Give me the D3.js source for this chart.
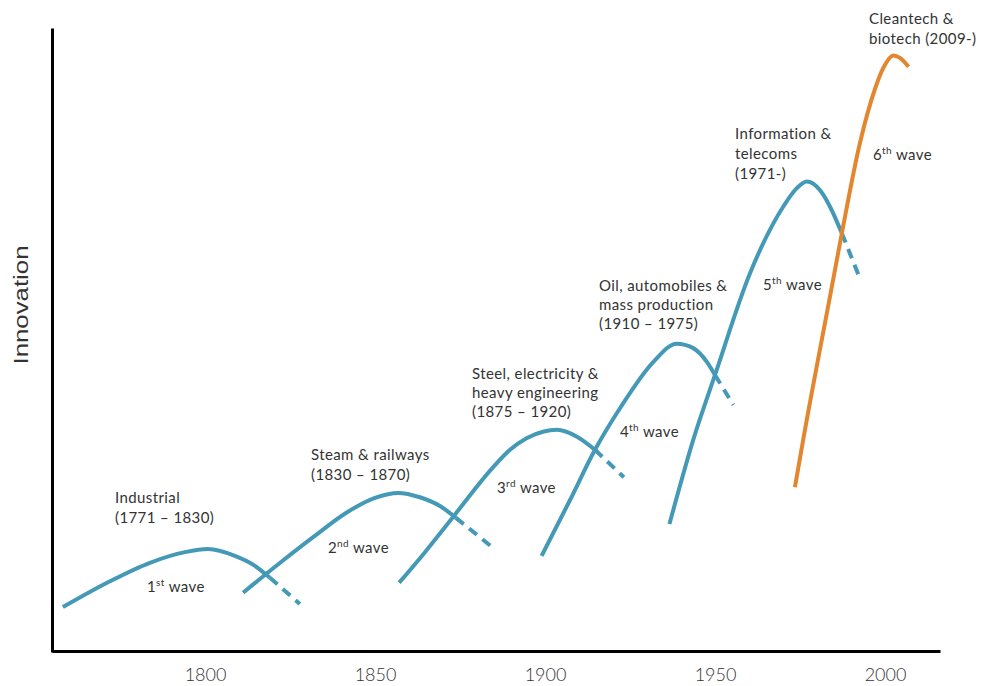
<!DOCTYPE html>
<html>
<head>
<meta charset="utf-8">
<script src="https://cdn.jsdelivr.net/npm/d3@7"></script>
<style>
  body { margin: 0; background: #fff; }
  text { font-family: Lato, "Open Sans", sans-serif; fill: #333; }
</style>
</head>
<body>
<svg width="984" height="686"></svg>
<script>
// years on the x axis
const tickYears = [1800, 1850, 1900, 1950, 2000];

// each wave: [year, innovation] — solid part then dashed decline
const wave1 = [[1758.2, 7.2], [1771.2, 11.1], [1783.8, 14.3], [1794.1, 16.0], [1800.9, 16.5],
  [1808.8, 15.4], [1814.7, 13.8], [1819.1, 11.9]];
const wave1Tail = [[1819.1, 11.9], [1827.9, 7.7]];

const wave2 = [[1811.2, 9.5], [1822.1, 14.3], [1831.8, 18.4], [1841.8, 22.4], [1850.0, 24.7],
  [1856.8, 25.5], [1863.2, 24.8], [1869.1, 23.4], [1873.8, 21.5]];
const wave2Tail = [[1873.8, 21.5], [1884.7, 16.7]];

const wave3 = [[1857.1, 11.1], [1864.7, 16.0], [1872.9, 21.6], [1884.7, 29.6], [1889.7, 32.4],
  [1894.7, 34.3], [1899.4, 35.3], [1903.5, 35.6], [1909.4, 34.5], [1914.7, 32.4]];
const wave3Tail = [[1914.7, 32.4], [1923.2, 28.0]];

const wave4 = [[1899.0, 15.4], [1907.4, 24.4], [1914.7, 32.4], [1922.1, 39.1],
  [1931.9, 46.5], [1938.7, 49.4], [1943.6, 48.7], [1947.6, 46.5], [1950.0, 44.4]];
const wave4Tail = [[1950.0, 44.4], [1955.4, 39.6]];

const wave5 = [[1936.6, 20.5], [1943.6, 34.0], [1950.0, 44.4], [1960.3, 60.7],
  [1970.1, 71.4], [1974.0, 74.3], [1977.0, 75.4], [1980.9, 74.0],
  [1983.8, 71.4], [1987.3, 67.1]];
const wave5Tail = [[1987.3, 67.1], [1992.6, 59.9]];

const wave6 = [[1973.5, 26.4], [1976.0, 34.2], [1983.8, 56.9], [1987.3, 67.1], [1992.6, 81.5],
  [1997.1, 90.3], [1999.5, 93.6], [2002.5, 95.6], [2004.4, 95.2], [2006.9, 93.8]];

const waveNames = ['1', '2', '3', '4', '5', '6'];
const waveSups = ['st', 'nd', 'rd', 'th', 'th', 'th'];
const eraLabels = [
  ['Industrial', '(1771 \u2013 1830)'],
  ['Steam & railways', '(1830 \u2013 1870)'],
  ['Steel, electricity &', 'heavy engineering', '(1875 \u2013 1920)'],
  ['Oil, automobiles &', 'mass production', '(1910 \u2013 1975)'],
  ['Information &', 'telecoms', '(1971-)'],
  ['Cleantech &', 'biotech (2009-)']
];

const svg = d3.select('svg');

const blue = '#4499b6';
const orange = '#e2872f';

const x = d3.scaleLinear()
    .domain([1800 + (52 - 205) / 3.4, 1800 + (940 - 205) / 3.4])
    .range([52, 940]);

const y = d3.scaleLinear()
    .domain([0, 100])
    .range([652, 28]);

const line = d3.line()
    .x(d => x(d[0]))
    .y(d => y(d[1]))
    .curve(d3.curveMonotoneX);

// axes
const xAxis = svg.append('g')
    .attr('transform', `translate(0, 651)`)
    .call(d3.axisBottom(x).tickValues(tickYears).tickFormat(d3.format('d'))
        .tickSize(0).tickSizeOuter(0).tickPadding(17));

xAxis.select('.domain')
    .attr('stroke', '#000')
    .attr('stroke-width', 3);

xAxis.selectAll('text')
    .style('font-family', 'Lato, sans-serif')
    .style('font-weight', 300)
    .style('font-size', '18px')
    .attr('fill', '#333');

const yAxis = svg.append('g')
    .attr('transform', `translate(52, 0)`)
    .call(d3.axisLeft(y).tickValues([]).tickSizeOuter(0));

yAxis.select('.domain')
    .attr('stroke', '#000')
    .attr('stroke-width', 3);

svg.append('text')
    .attr('transform', `translate(28, 305) rotate(-90)`)
    .attr('text-anchor', 'middle')
    .attr('textLength', 119)
    .attr('lengthAdjust', 'spacingAndGlyphs')
    .style('font-family', '"Liberation Sans", Arial, sans-serif')
    .style('font-size', '21px')
    .attr('fill', '#111')
    .text('Innovation');

// waves
const solids = [wave1, wave2, wave3, wave4, wave5];
const tails = [wave1Tail, wave2Tail, wave3Tail, wave4Tail, wave5Tail];

const curvesG = svg.append('g')
    .attr('fill', 'none')
    .attr('stroke-width', 4);

curvesG.selectAll('path.tail')
    .data(tails)
    .join('path')
    .attr('class', 'tail')
    .attr('stroke', blue)
    .attr('stroke-dasharray', '10 7')
    .attr('d', line);

curvesG.selectAll('path.solid')
    .data(solids)
    .join('path')
    .attr('class', 'solid')
    .attr('stroke', blue)
    .attr('d', line);

curvesG.append('path')
    .datum(wave6)
    .attr('stroke', orange)
    .attr('d', line);

// labels (top-left baseline, line step)
const eraPos = [[115, 503, 20], [311, 460, 20], [472, 379, 19], [599, 291, 19], [735, 139, 20], [869, 24, 19.5]];
const wavePos = [[147, 592], [328, 553], [497, 493], [620, 437], [763, 290], [873, 160]];

const labelsG = svg.append('g')
    .style('font-size', '15px')
    .style('letter-spacing', '0.4px');

eraLabels.forEach((lines, i) => {
    const [lx, ly, step] = eraPos[i];
    const t = labelsG.append('text')
        .attr('x', lx)
        .attr('y', ly);
    lines.forEach((s, j) => {
        t.append('tspan')
            .attr('x', lx)
            .attr('y', ly + j * step)
            .text(s);
    });
});

waveNames.forEach((n, i) => {
    const [lx, ly] = wavePos[i];
    const t = labelsG.append('text')
        .attr('x', lx)
        .attr('y', ly);
    t.append('tspan').text(n);
    t.append('tspan')
        .attr('dy', -6)
        .style('font-size', '10px')
        .text(waveSups[i]);
    t.append('tspan')
        .attr('dy', 6)
        .text(' wave');
});
</script>
</body>
</html>
